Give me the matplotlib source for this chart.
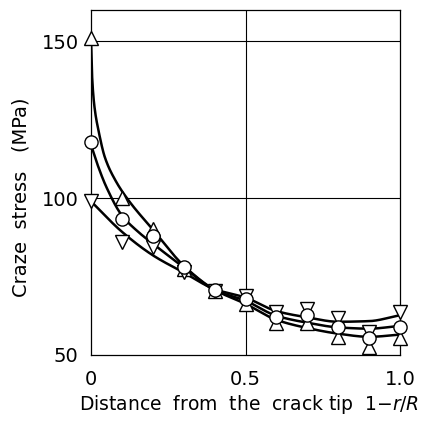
import numpy as np
import matplotlib
matplotlib.use("Agg")
import matplotlib.pyplot as plt

# ---- data ----
x_pts = [0.0, 0.1, 0.2, 0.3, 0.4, 0.5, 0.6, 0.7, 0.8, 0.9, 1.0]
circle_vals = [118, 93.5, 88.0, 78.1, 70.7, 67.8, 62.2, 62.7, 58.8, 55.3, 59.0]
up_vals = [151, 100, 90.3, 77.5, 70.5, 66.3, 60.2, 60.2, 55.8, 52.6, 55.5]
down_vals = [99, 86.1, 84.5, 76.5, 70.5, 68.8, 63.8, 64.8, 61.7, 57.4, 63.8]

# hand-drawn guide curves (knots)
curveA_x = [0.0, 0.004, 0.012, 0.024, 0.045, 0.08, 0.12, 0.2, 0.3, 0.4, 0.5, 0.6, 0.7, 0.8, 0.9, 1.0]
curveA_y = [151, 138, 128.5, 121.7, 113, 105.5, 99.5, 90, 78.5, 70.8, 66.3, 61.2, 58.6, 56.8, 55.8, 56.5]
curveB_x = [0.0, 0.02, 0.05, 0.1, 0.15, 0.2, 0.3, 0.4, 0.5, 0.6, 0.7, 0.8, 0.9, 1.0]
curveB_y = [117, 111, 103.5, 94.5, 89.5, 85.5, 78, 70.7, 67.3, 62.5, 60.3, 58.8, 58.4, 59.3]
curveC_x = [0.0, 0.1, 0.2, 0.3, 0.4, 0.5, 0.6, 0.7, 0.8, 0.9, 1.0]
curveC_y = [99, 89.3, 81.8, 76.3, 71.0, 68.3, 64.0, 62.0, 60.6, 60.8, 62.7]

x_ticks = [0, 0.5, 1.0]
x_ticklabels = ["0", "0.5", "1.0"]
y_ticks = [50, 100, 150]
y_ticklabels = ["50", "100", "150"]


def pchip(x, y, xs):
    x = np.asarray(x, float)
    y = np.asarray(y, float)
    h = np.diff(x)
    d = np.diff(y) / h
    n = len(x)
    m = np.zeros(n)
    for k in range(1, n - 1):
        if d[k - 1] * d[k] > 0:
            w1 = 2 * h[k] + h[k - 1]
            w2 = h[k] + 2 * h[k - 1]
            m[k] = (w1 + w2) / (w1 / d[k - 1] + w2 / d[k])
        else:
            m[k] = 0.0
    m[0] = d[0]
    m[-1] = d[-1]
    idx = np.clip(np.searchsorted(x, xs) - 1, 0, n - 2)
    t = (xs - x[idx]) / h[idx]
    h00 = 2 * t**3 - 3 * t**2 + 1
    h10 = t**3 - 2 * t**2 + t
    h01 = -2 * t**3 + 3 * t**2
    h11 = t**3 - t**2
    return h00 * y[idx] + h10 * h[idx] * m[idx] + h01 * y[idx + 1] + h11 * h[idx] * m[idx + 1]


fig = plt.figure(figsize=(4.30, 4.26), dpi=100)
ax = fig.add_axes([91 / 430, 1 - 355 / 426, 309 / 430, 345 / 426])

ax.set_xlim(0, 1.0)
ax.set_ylim(50, 160)

for v in [0.5]:
    ax.axvline(v, color="black", lw=0.8, zorder=1)
for v in [100, 150]:
    ax.axhline(v, color="black", lw=0.8, zorder=1)

xs = np.linspace(0, 1, 800)
for cx, cy in [(curveA_x, curveA_y), (curveB_x, curveB_y), (curveC_x, curveC_y)]:
    ax.plot(xs, pchip(cx, cy, xs), color="black", lw=1.8, zorder=2,
            solid_capstyle="butt")

mk = dict(markerfacecolor="white", markeredgecolor="black", markeredgewidth=1.0,
          linestyle="none", clip_on=False)
ax.plot(x_pts, up_vals, marker="^", markersize=9.5, zorder=3, **mk)
ax.plot(x_pts, down_vals, marker="v", markersize=9.5, zorder=3, **mk)
ax.plot(x_pts, circle_vals, marker="o", markersize=9.5, zorder=4, **mk)

for s in ax.spines.values():
    s.set_linewidth(0.9)

ax.set_xticks(x_ticks)
ax.set_xticklabels(x_ticklabels)
ax.set_yticks(y_ticks)
ax.set_yticklabels(y_ticklabels)
ax.tick_params(length=0, labelsize=14, pad=9)
ax.tick_params(axis="x", pad=11)

fig.text(249 / 430, 1 - 405 / 426,
         "Distance  from  the  crack tip  1$-$$\\it{r/R}$",
         ha="center", va="center", fontsize=13.5)
fig.text(21 / 430, 1 - 197 / 426, "Craze  stress   (MPa)", rotation=90,
         ha="center", va="center", fontsize=14)

fig.savefig("out.png", dpi=100)
